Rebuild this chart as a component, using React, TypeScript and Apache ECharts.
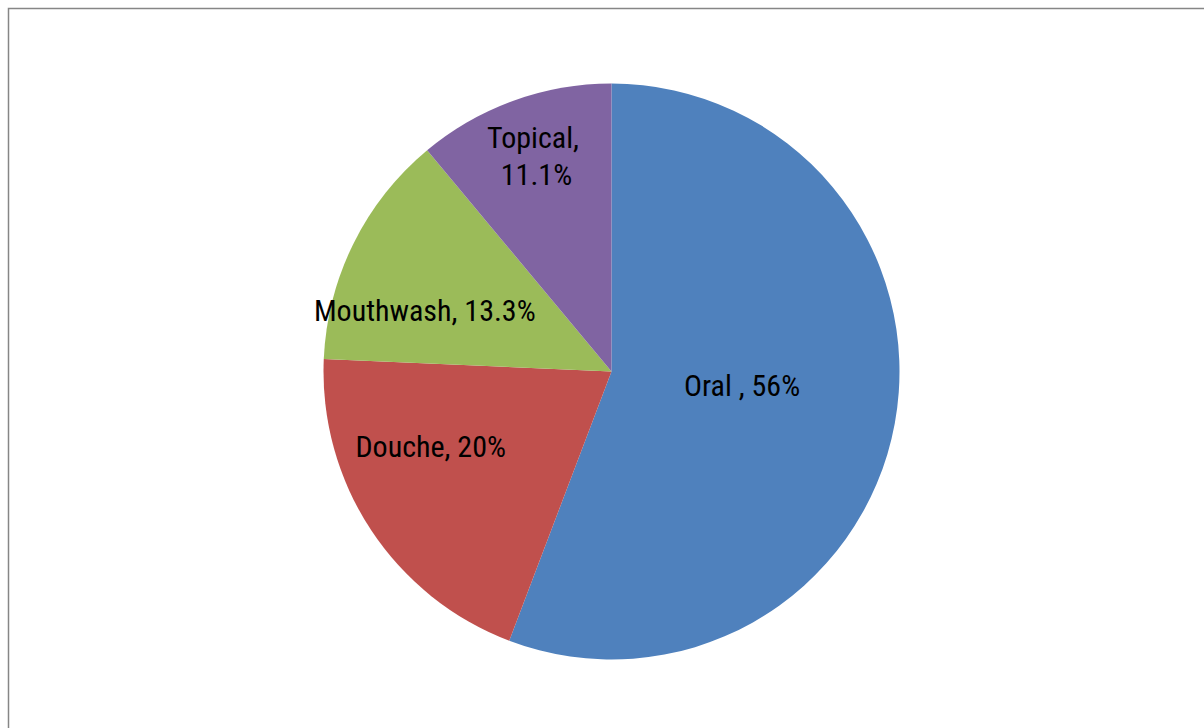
import React, { useEffect, useRef } from "react";
import * as echarts from "echarts";

const categories = ["Oral ", "Douche", "Mouthwash", "Topical"];
const values = [56, 20, 13.3, 11.1];
const colors = ["#4F81BD", "#C0504D", "#9BBB59", "#8064A2"];
const labelOffsets: [number, number][] = [
  [-14, -13],
  [-58, -6],
  [-55, 4],
  [-25, -77],
];

export default function App() {
  const ref = useRef<HTMLDivElement>(null);
  useEffect(() => {
    if (!ref.current) return;
    const chart = echarts.init(ref.current, null, { renderer: "svg" });
    const font = "'Roboto Condensed', 'Liberation Sans', Arial, sans-serif";
    chart.setOption({
      animation: false,
      backgroundColor: "#ffffff",
      graphic: [
        {
          type: "rect",
          shape: { x: 8.5, y: 8.5, width: 1300, height: 800 },
          style: { fill: "none", stroke: "#868686", lineWidth: 1.5 },
          silent: true,
        },
      ],
      series: [
        {
          type: "pie",
          center: [611.5, 371.5],
          radius: 288,
          startAngle: 90,
          clockwise: true,
          avoidLabelOverlap: false,
          labelLine: { show: false },
          itemStyle: { borderWidth: 0 },
          emphasis: { disabled: true },
          label: {
            show: true,
            position: "inside",
            color: "#000000",
            fontFamily: font,
            fontSize: 30,
            fontWeight: "normal",
            lineHeight: 37,
            formatter: (p: any) => `${p.name}, ${p.value}%`,
          },
          data: categories.map((c, i) => ({
            name: c,
            value: values[i],
            itemStyle: { color: colors[i] },
            label: {
              offset: labelOffsets[i],
              ...(i === 3 ? { width: 110, overflow: "break", align: "center" } : {}),
            },
          })),
        },
      ],
    });
    return () => chart.dispose();
  }, []);
  return (
    <div
      ref={ref}
      style={{ position: "fixed", left: 0, top: 0, width: 1204, height: 728 }}
    />
  );
}
